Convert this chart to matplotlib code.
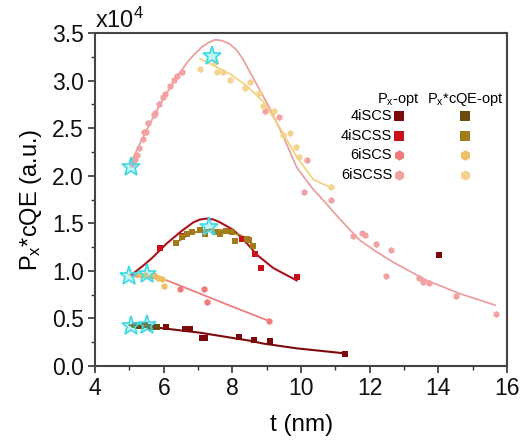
import numpy as np
import matplotlib
matplotlib.use('Agg')
import matplotlib.pyplot as plt

plt.rcParams['font.family'] = ['Liberation Sans', 'DejaVu Sans']
plt.rcParams['mathtext.fontset'] = 'custom'
plt.rcParams['mathtext.rm'] = 'Liberation Sans'
plt.rcParams['mathtext.it'] = 'Liberation Sans'
plt.rcParams['font.size'] = 13

# ---- data (values in units of 1e4) ----
# 4iSCS
t_4s_px = [6.06, 6.62, 6.77, 7.11, 7.2, 8.19, 8.63, 9.08, 11.28, 14.01]
v_4s_px = [0.406, 0.385, 0.385, 0.29, 0.29, 0.30, 0.27, 0.265, 0.13, 1.17]
t_4s_cqe = [5.15, 5.25, 5.35, 5.45, 5.6, 5.7, 5.8]
v_4s_cqe = [0.43, 0.42, 0.42, 0.43, 0.41, 0.41, 0.41]
# 4iSCSS
t_4ss_px = [5.89, 6.52, 8.27, 8.66, 8.83, 9.87]
v_4ss_px = [1.24, 1.37, 1.335, 1.18, 1.03, 0.94]
t_4ss_cqe = [6.36, 6.52, 6.67, 6.82, 7.06, 7.2, 7.5, 7.64, 7.8, 7.98, 8.08, 8.42, 8.47, 8.61]
v_4ss_cqe = [1.29, 1.36, 1.39, 1.41, 1.43, 1.39, 1.41, 1.39, 1.42, 1.41, 1.31, 1.34, 1.33, 1.26]
# 6iSCS
t_6s_px = [6.48, 7.17, 7.25, 9.07]
v_6s_px = [0.81, 0.81, 0.676, 0.476]
t_6s_cqe = [5.31, 5.45, 5.7, 5.84, 5.94, 6.02]
v_6s_cqe = [0.956, 0.96, 0.956, 0.93, 0.92, 0.844]
# 6iSCSS
t_6ss_px = [5.07, 5.12, 5.17, 5.23, 5.29, 5.39, 5.43, 5.49, 5.55, 5.7, 5.75, 5.87, 5.99,
            6.04, 6.18, 6.3, 6.38, 6.52,
            8.95, 9.37, 10.17, 10.08, 10.86, 11.52, 11.77, 11.86, 12.18, 12.48, 12.61,
            13.45, 13.56, 13.74, 14.52, 15.67]
v_6ss_px = [2.12, 2.17, 2.18, 2.22, 2.29, 2.39, 2.46, 2.46, 2.55, 2.64, 2.66, 2.75, 2.83,
            2.86, 2.94, 3.01, 3.05, 3.09,
            2.68, 2.62, 2.17, 1.83, 1.745, 1.366, 1.40, 1.377, 1.28, 0.946, 1.22,
            0.93, 0.88, 0.876, 0.736, 0.55]
t_6ss_cqe = [7.06, 7.5, 7.56, 7.72, 7.92, 8.37, 8.52, 8.76, 8.9, 9.2, 9.47, 9.68, 9.85, 9.95, 10.87]
v_6ss_cqe = [3.12, 3.2, 3.09, 3.09, 3.01, 2.92, 2.99, 2.87, 2.73, 2.68, 2.43, 2.45, 2.3, 2.2, 1.88]

# optimum points (stars)
t_opt = [5.04, 5.5, 5.0, 5.5, 7.33, 5.04, 7.4]
v_opt = [0.42, 0.43, 0.946, 0.967, 1.458, 2.095, 3.26]

# fitted curves
fit_4s_t = [5.07, 5.6, 7.06, 8.51, 8.9, 9.87, 11.28]
fit_4s_v = [0.42, 0.413, 0.35, 0.266, 0.236, 0.186, 0.133]
fit_4s_cqe_t = [5.0, 5.8]
fit_4s_cqe_v = [0.43, 0.41]
fit_4ss_t = [5.07, 5.17, 5.45, 5.7, 6.09, 6.52, 6.86, 7.05, 7.25, 7.45, 7.64, 8.03, 8.42, 8.71, 9.19, 9.87]
fit_4ss_v = [0.96, 0.99, 1.07, 1.15, 1.29, 1.42, 1.51, 1.54, 1.55, 1.54, 1.51, 1.43, 1.29, 1.17, 1.03, 0.90]
fit_4ss_cqe_t = [6.33, 6.77, 7.05, 7.35, 7.65, 7.93, 8.2, 8.42, 8.61]
fit_4ss_cqe_v = [1.29, 1.39, 1.42, 1.435, 1.43, 1.41, 1.38, 1.34, 1.27]
fit_6s_t = [5.07, 5.6, 6.09, 7.06, 8.03, 9.05]
fit_6s_v = [0.946, 0.93, 0.90, 0.76, 0.62, 0.476]
fit_6s_cqe_t = [5.0, 5.9]
fit_6s_cqe_v = [0.96, 0.94]
fit_6ss_t = [5.04, 5.12, 5.5, 5.8, 6.0, 6.28, 6.5, 6.7, 6.9, 7.1, 7.3, 7.5, 7.7, 7.9, 8.1, 8.3,
             8.51, 8.8, 9.1, 9.5, 9.87, 10.3, 10.75, 11.14, 11.72, 12.2, 12.69, 13.2, 13.66,
             14.15, 14.63, 15.15, 15.65]
fit_6ss_v = [2.1, 2.2, 2.48, 2.69, 2.82, 2.98, 3.1, 3.2, 3.28, 3.35, 3.40, 3.43, 3.42, 3.39, 3.33, 3.23,
             3.09, 2.9, 2.70, 2.40, 2.09, 1.88, 1.70, 1.54, 1.32, 1.2, 1.09, 0.99, 0.90,
             0.83, 0.76, 0.70, 0.64]
fit_6ss_cqe_t = [7.06, 7.5, 7.93, 8.4, 8.9, 9.39, 9.87, 10.36, 10.84]
fit_6ss_cqe_v = [3.23, 3.15, 3.07, 2.95, 2.78, 2.50, 2.20, 1.96, 1.88]

# colours
c_4s_px, c_4s_cqe = '#7d0a0a', '#6b4b10'
c_4ss_px, c_4ss_cqe = '#c8101a', '#a37a1c'
c_6s_px, c_6s_cqe = '#f07a7a', '#eec063'
c_6ss_px, c_6ss_cqe = '#f2a2a2', '#f4d28f'

fig = plt.figure(figsize=(5.2, 4.41), dpi=100)
ax = fig.add_axes([0.183, 0.170, 0.792, 0.755])

# fits
ax.plot(fit_6ss_t, fit_6ss_v, color='#eba0a0', lw=1.3)
ax.plot(fit_6ss_cqe_t, fit_6ss_cqe_v, color='#f3d47e', lw=1.3)
ax.plot(fit_6s_t, fit_6s_v, color='#ee7c80', lw=1.3)
ax.plot(fit_6s_cqe_t, fit_6s_cqe_v, color='#eec063', lw=1.3)
ax.plot(fit_4ss_t, fit_4ss_v, color='#a8141e', lw=1.5)
ax.plot(fit_4ss_cqe_t, fit_4ss_cqe_v, color='#a37a1c', lw=1.3)
ax.plot(fit_4s_t, fit_4s_v, color='#7d0a0a', lw=1.5)
ax.plot(fit_4s_cqe_t, fit_4s_cqe_v, color='#6b4b10', lw=1.3)

# points
ax.plot(t_6ss_px, v_6ss_px, 'h', color=c_6ss_px, ms=5, mew=0)
ax.plot(t_6ss_cqe, v_6ss_cqe, 'h', color=c_6ss_cqe, ms=5, mew=0)
ax.plot(t_6s_px, v_6s_px, 'h', color=c_6s_px, ms=5, mew=0)
ax.plot(t_6s_cqe, v_6s_cqe, 'h', color=c_6s_cqe, ms=5, mew=0)
ax.plot(t_4ss_px, v_4ss_px, 's', color=c_4ss_px, ms=4, mew=0)
ax.plot(t_4ss_cqe, v_4ss_cqe, 's', color=c_4ss_cqe, ms=4, mew=0)
ax.plot(t_4s_px, v_4s_px, 's', color=c_4s_px, ms=4, mew=0)
ax.plot(t_4s_cqe, v_4s_cqe, 's', color=c_4s_cqe, ms=4, mew=0)

# optimum stars
ax.plot(t_opt, v_opt, '*', ms=14, mfc=(0.3, 0.9, 0.92, 0.35), mec='#3fd9e2', mew=1.2)

ax.set_xlim(4, 16)
ax.set_ylim(0, 3.5)
ax.set_xticks([4, 6, 8, 10, 12, 14, 16])
ax.set_yticks([0.0, 0.5, 1.0, 1.5, 2.0, 2.5, 3.0, 3.5])
ax.set_yticklabels(['%.1f' % y for y in [0.0, 0.5, 1.0, 1.5, 2.0, 2.5, 3.0, 3.5]])
ax.set_xticks(np.arange(5, 16, 2), minor=True)
ax.set_yticks(np.arange(0.25, 3.5, 0.5), minor=True)
ax.tick_params(which='major', direction='out', length=5, width=1.2, labelsize=16.5,
               colors='#333333', pad=3)
ax.tick_params(which='minor', direction='out', length=3, width=1.0, colors='#333333')
ax.tick_params(labelcolor='#111111')
for s in ax.spines.values():
    s.set_linewidth(1.5)
    s.set_color('#444444')

ax.set_xlabel('t (nm)', fontsize=17.5, labelpad=10)
ax.set_ylabel(r'P$_\mathregular{x}$*cQE (a.u.)', fontsize=17, labelpad=6)
ax.text(0.0, 1.0, r'x10$^\mathregular{4}$', transform=ax.transAxes, fontsize=17,
        ha='left', va='bottom', color='#111111')

# legend table
leg_names = ['4iSCS', '4iSCSS', '6iSCS', '6iSCSS']
leg_px = [c_4s_px, c_4ss_px, c_6s_px, c_6ss_px]
leg_cqe = [c_4s_cqe, c_4ss_cqe, c_6s_cqe, c_6ss_cqe]
leg_mk = ['s', 's', 'h', 'h']
ax.text(0.735, 0.802, r'P$_\mathregular{x}$-opt', transform=ax.transAxes, fontsize=10.5,
        ha='center', va='center')
ax.text(0.899, 0.802, r'P$_\mathregular{x}$*cQE-opt', transform=ax.transAxes, fontsize=10.5,
        ha='center', va='center')
for i in range(4):
    yy = 0.751 - i * 0.059
    ax.text(0.721, yy, leg_names[i], transform=ax.transAxes, fontsize=10.5, ha='right', va='center')
    ax.plot([0.738], [yy], leg_mk[i], color=leg_px[i], ms=6.5 if leg_mk[i] == 's' else 7.5,
            mew=0, transform=ax.transAxes)
    ax.plot([0.898], [yy], leg_mk[i], color=leg_cqe[i], ms=6.5 if leg_mk[i] == 's' else 7.5,
            mew=0, transform=ax.transAxes)

plt.savefig('out.png', dpi=100)
